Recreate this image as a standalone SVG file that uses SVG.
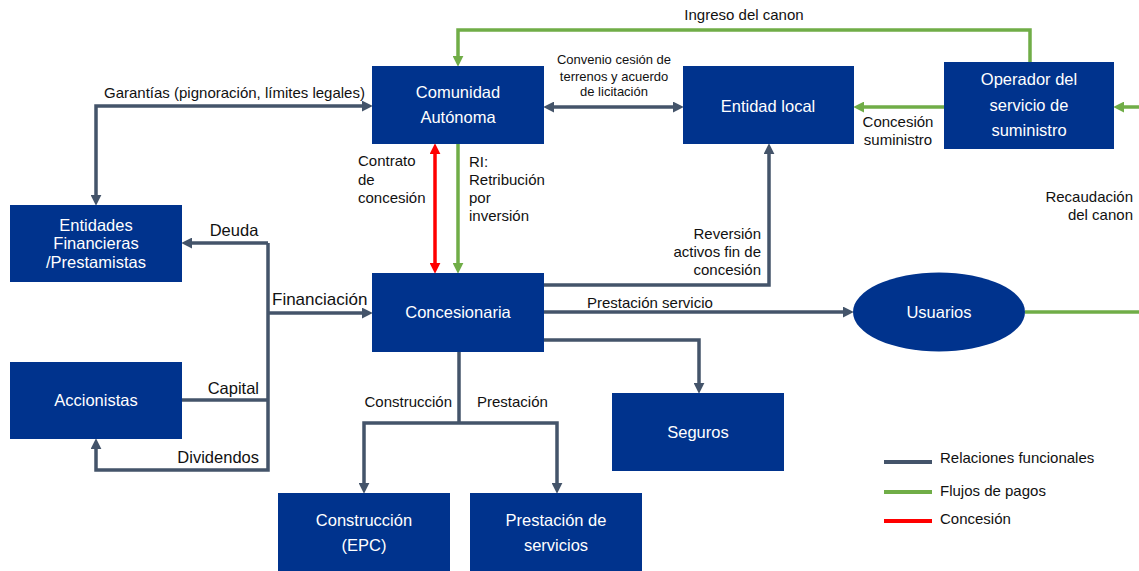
<svg xmlns="http://www.w3.org/2000/svg" width="1139" height="571" viewBox="0 0 1139 571">
<style>
.box{fill:#00338D}
.bt{font-family:"Liberation Sans",Arial,sans-serif;font-size:16.5px;fill:#fff;text-anchor:middle}
.lb{font-family:"Liberation Sans",Arial,sans-serif;font-size:15px;fill:#111}
.lg{font-family:"Liberation Sans",Arial,sans-serif;font-size:16.5px;fill:#111}
.sm{font-family:"Liberation Sans",Arial,sans-serif;font-size:13px;fill:#111;text-anchor:middle}
.d{fill:none;stroke:#44546A;stroke-width:3.5;stroke-linejoin:miter}
.g{fill:none;stroke:#70AD47;stroke-width:3.5}
.r{fill:none;stroke:#FF0000;stroke-width:3.5}
</style>
<defs>
<marker id="ad" viewBox="0 0 10 10" refX="2" refY="5" markerWidth="11" markerHeight="11" markerUnits="userSpaceOnUse" orient="auto-start-reverse"><path d="M0,0 L10,5 L0,10 z" fill="#44546A"/></marker>
<marker id="ag" viewBox="0 0 10 10" refX="2" refY="5" markerWidth="11" markerHeight="11" markerUnits="userSpaceOnUse" orient="auto-start-reverse"><path d="M0,0 L10,5 L0,10 z" fill="#70AD47"/></marker>
<marker id="ar" viewBox="0 0 10 10" refX="2" refY="5" markerWidth="11" markerHeight="11" markerUnits="userSpaceOnUse" orient="auto-start-reverse"><path d="M0,0 L10,5 L0,10 z" fill="#FF0000"/></marker>
</defs>

<g id="connectors">
<path class="d" d="M364 106 L96 106 L96 197" marker-start="url(#ad)" marker-end="url(#ad)"/>
<path class="d" d="M552 107 L675 107" marker-start="url(#ad)" marker-end="url(#ad)"/>
<path class="d" d="M268 243 L190 243" marker-end="url(#ad)"/>
<path class="d" d="M268 243 L268 470 L96 470 L96 447" marker-end="url(#ad)"/>
<path class="d" d="M268 313 L364 313" marker-end="url(#ad)"/>
<path class="d" d="M182 400 L268 400"/>
<path class="d" d="M544 285 L769 285 L769 152" marker-end="url(#ad)"/>
<path class="d" d="M544 312 L845 312" marker-end="url(#ad)"/>
<path class="d" d="M544 340 L699 340 L699 385" marker-end="url(#ad)"/>
<path class="d" d="M459 352 L459 423"/>
<path class="d" d="M459 423 L364 423 L364 485" marker-end="url(#ad)"/>
<path class="d" d="M459 423 L557 423 L557 485" marker-end="url(#ad)"/>
<path class="g" d="M1030 62 L1030 30 L458 30 L458 58" marker-end="url(#ag)"/>
<path class="g" d="M944 107 L862 107" marker-end="url(#ag)"/>
<path class="g" d="M1139 107 L1122 107" marker-end="url(#ag)"/>
<path class="g" d="M458 144 L458 265" marker-end="url(#ag)"/>
<path class="g" d="M1025 312 L1139 312"/>
<path class="r" d="M435 152 L435 265" marker-start="url(#ar)" marker-end="url(#ar)"/>
</g>

<g id="labels">
<text class="lb" x="744" y="20" text-anchor="middle">Ingreso del canon</text>
<text class="lb" x="104" y="98">Garantías (pignoración, límites legales)</text>
<text class="sm" x="614" y="64">Convenio  cesión de</text>
<text class="sm" x="614" y="81">terrenos  y acuerdo</text>
<text class="sm" x="614" y="96">de licitación</text>
<text class="lb" x="358" y="166">Contrato</text>
<text class="lb" x="358" y="185">de</text>
<text class="lb" x="358" y="203">concesión</text>
<text class="lb" x="469" y="167">RI:</text>
<text class="lb" x="469" y="185">Retribución</text>
<text class="lb" x="469" y="203">por</text>
<text class="lb" x="469" y="221">inversión</text>
<text class="lb" x="761" y="239" text-anchor="end">Reversión</text>
<text class="lb" x="761" y="257" text-anchor="end">activos fin de</text>
<text class="lb" x="761" y="275" text-anchor="end">concesión</text>
<text class="lb" x="898" y="127" text-anchor="middle">Concesión</text>
<text class="lb" x="898" y="145" text-anchor="middle">suministro</text>
<text class="lb" x="1133" y="202" text-anchor="end">Recaudación</text>
<text class="lb" x="1133" y="220" text-anchor="end">del canon</text>
<text class="lg" x="234" y="236" text-anchor="middle">Deuda</text>
<text class="lg" x="272" y="305" style="font-size:17px">Financiación</text>
<text class="lg" x="259" y="394" text-anchor="end">Capital</text>
<text class="lg" x="259" y="463" text-anchor="end">Dividendos</text>
<text class="lb" x="587" y="308">Prestación servicio</text>
<text class="lb" x="452" y="407" text-anchor="end">Construcción</text>
<text class="lb" x="477" y="407">Prestación</text>
</g>

<g id="n-comunidad"><rect class="box" x="372" y="66" width="172" height="78"/><text class="bt" x="458" y="98">Comunidad</text><text class="bt" x="458" y="123">Autónoma</text></g>
<g id="n-entidad-local"><rect class="box" x="683" y="66" width="171" height="78"/><text class="bt" x="768" y="112">Entidad local</text></g>
<g id="n-operador"><rect class="box" x="944" y="62" width="170" height="87"/><text class="bt" x="1029" y="85">Operador del</text><text class="bt" x="1029" y="111">servicio de</text><text class="bt" x="1029" y="136">suministro</text></g>
<g id="n-entidades-fin"><rect class="box" x="10" y="205" width="172" height="77"/><text class="bt" x="96" y="231">Entidades</text><text class="bt" x="96" y="249">Financieras</text><text class="bt" x="96" y="268">/Prestamistas</text></g>
<g id="n-accionistas"><rect class="box" x="10" y="362" width="172" height="77"/><text class="bt" x="96" y="406">Accionistas</text></g>
<g id="n-concesionaria"><rect class="box" x="372" y="273" width="172" height="79"/><text class="bt" x="458" y="318">Concesionaria</text></g>
<g id="n-usuarios"><ellipse class="box" cx="939" cy="312" rx="86" ry="39.5"/><text class="bt" x="939" y="318">Usuarios</text></g>
<g id="n-seguros"><rect class="box" x="612" y="393" width="172" height="78"/><text class="bt" x="698" y="438">Seguros</text></g>
<g id="n-construccion"><rect class="box" x="278" y="493" width="172" height="78"/><text class="bt" x="364" y="526">Construcción</text><text class="bt" x="364" y="551">(EPC)</text></g>
<g id="n-prestacion"><rect class="box" x="470" y="493" width="172" height="78"/><text class="bt" x="556" y="526">Prestación de</text><text class="bt" x="556" y="551">servicios</text></g>

<g id="legend">
<line x1="884" y1="462" x2="932" y2="462" stroke="#44546A" stroke-width="4"/>
<line x1="884" y1="492" x2="932" y2="492" stroke="#70AD47" stroke-width="4"/>
<line x1="884" y1="521" x2="932" y2="521" stroke="#FF0000" stroke-width="4"/>
<text class="lb" x="940" y="463">Relaciones funcionales</text>
<text class="lb" x="940" y="496">Flujos de pagos</text>
<text class="lb" x="940" y="524">Concesión</text>
</g>
</svg>
